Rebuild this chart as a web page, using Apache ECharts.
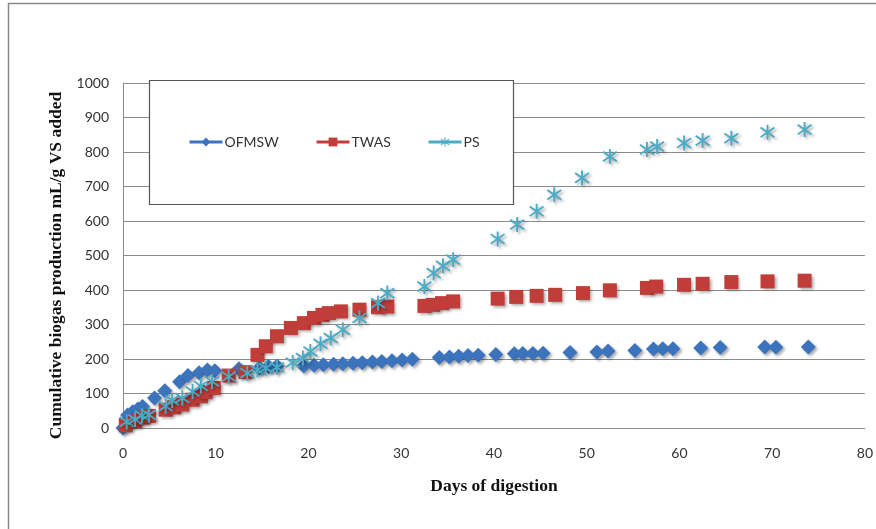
<!DOCTYPE html>
<html>
<head>
<meta charset="utf-8">
<script src="https://cdn.jsdelivr.net/npm/echarts@6/dist/echarts.min.js"></script>
<style>
html,body{margin:0;padding:0;background:#fff;}
#chart{width:876px;height:529px;}
</style>
</head>
<body>
<div id="chart"></div>
<script>
// ---- data ----
const xTitle = 'Days of digestion';
const yTitle = 'Cumulative biogas production mL/g VS added';
const seriesNames = ['OFMSW', 'TWAS', 'PS'];

const ofmswDays = [0, 0.5, 1.05, 1.6, 2.1, 3.4, 4.5, 6.1, 7.0, 8.2, 9.1, 9.9, 12.5, 14.7, 15.7, 16.6,
  19.5, 20.6, 21.6, 22.7, 23.7, 24.8, 25.8, 26.9, 27.9, 29.0, 30.1, 31.2,
  34.1, 35.2, 36.2, 37.2, 38.3, 40.2, 42.2, 43.1, 44.2, 45.3, 48.2, 51.1, 52.3, 55.2,
  57.2, 58.2, 59.3, 62.3, 64.4, 69.2, 70.4, 73.9];
const ofmswValues = [0, 38, 47, 55, 62, 87, 108, 134, 152, 160, 168, 166, 172, 174, 178, 180,
  180, 182, 183, 185, 186, 188, 189, 191, 193, 195, 197, 199,
  204, 206, 208, 210, 211, 213, 215, 216, 216, 217, 219, 220, 223, 225,
  229, 230, 230, 232, 233, 235, 234, 235];

const twasDays = [0.3, 1.3, 2.1, 2.8, 4.6, 5.5, 6.4, 7.5, 8.4, 8.9, 9.8, 11.4, 13.2, 14.5, 15.4, 16.6,
  18.1, 19.5, 20.6, 21.5, 22.2, 23.5, 25.5, 27.5, 28.5, 32.5, 33.4, 34.4, 35.6, 40.4, 42.4,
  44.6, 46.6, 49.6, 52.5, 56.5, 57.5, 60.5, 62.5, 65.6, 69.5, 73.5];
const twasValues = [8, 20, 30, 35, 53, 60, 68, 82, 92, 104, 116, 152, 162, 212, 237, 266,
  290, 304, 319, 328, 333, 338, 343, 350, 352, 354, 357, 362, 367, 375, 380,
  383, 386, 391, 399, 406, 410, 415, 418, 423, 425, 427];

const psDays = [0.4, 1.3, 2.05, 2.8, 4.6, 5.3, 6.4, 7.5, 8.4, 9.6, 11.4, 13.4, 14.5, 15.4, 16.6,
  18.3, 19.4, 20.2, 21.3, 22.4, 23.7, 25.5, 27.5, 28.5, 32.5, 33.5, 34.5, 35.6, 40.4, 42.5,
  44.6, 46.5, 49.5, 52.5, 56.5, 57.6, 60.5, 62.5, 65.6, 69.5, 73.5];
const psValues = [18, 25, 36, 38, 63, 80, 87, 106, 122, 135, 149, 159, 168, 174, 176,
  190, 203, 222, 244, 261, 285, 319, 362, 391, 410, 449, 470, 488, 548, 590,
  628, 676, 725, 787, 807, 816, 826, 833, 840, 857, 865];

// ---- build ----
function zip(a, b) { return a.map((d, i) => [d, b[i]]); }

const asterisk = 'path://M44 0L56 0L56 100L44 100Z' +
  'M9.53 13.15L97.53 77.15L90.47 86.85L2.47 22.85Z' +
  'M2.47 77.15L90.47 13.15L97.53 22.85L9.53 86.85Z';

const shadow = { shadowColor: 'rgba(0,0,0,0.35)', shadowBlur: 3, shadowOffsetX: 2, shadowOffsetY: 2 };
const colors = ['#3B74BD', '#C13D39', '#4AABC6'];
const symbols = ['diamond', 'rect', asterisk];
const sizes = [15, 14, 15];
const dataSets = [zip(ofmswDays, ofmswValues), zip(twasDays, twasValues), zip(psDays, psValues)];

const series = seriesNames.map((n, i) => ({
  name: n,
  type: 'line',
  data: dataSets[i],
  symbol: symbols[i],
  symbolSize: sizes[i],
  showSymbol: true,
  showAllSymbol: true,
  animation: false,
  lineStyle: { opacity: 0, width: 0 },
  itemStyle: Object.assign({ color: colors[i], borderWidth: 0, opacity: 1 }, shadow)
}));

const legendLeft = [188, 315, 427];
const legends = seriesNames.map((n, i) => ({
  data: [n],
  left: legendLeft[i],
  top: 135,
  padding: 0,
  itemWidth: 33,
  itemHeight: 11,
  itemGap: 4,
  z: 10,
  selectedMode: false,
  textStyle: { fontFamily: 'Lato', fontSize: 14, color: '#333', padding: [0, 0, 0, -3] },
  lineStyle: { width: 3, opacity: 1 },
  itemStyle: { shadowBlur: 0, shadowOffsetX: 0, shadowOffsetY: 0 }
}));

const chart = echarts.init(document.getElementById('chart'), null, { renderer: 'canvas' });
chart.setOption({
  animation: false,
  backgroundColor: '#fff',
  grid: { left: 123, right: 9, top: 83, bottom: 101, containLabel: false },
  legend: legends,
  graphic: [
    { type: 'rect', z: 1, silent: true, shape: { x: 8.5, y: 3.5, width: 900, height: 600 },
      style: { fill: 'none', stroke: '#8a8a8a', lineWidth: 1.5 } },
    { type: 'rect', z: 5, silent: true, shape: { x: 149.5, y: 80.5, width: 364, height: 124 },
      style: { fill: '#fff', stroke: '#555', lineWidth: 1.2 } }
  ],
  xAxis: {
    type: 'value', min: 0, max: 80, interval: 10,
    name: xTitle, nameLocation: 'middle', nameGap: 49,
    nameTextStyle: { fontFamily: 'Liberation Serif', fontWeight: 'bold', fontSize: 17.5, color: '#111' },
    axisLine: { show: true, lineStyle: { color: '#8c8c8c', width: 1 } },
    axisTick: { show: false },
    splitLine: { show: false },
    axisLabel: { fontFamily: 'Lato', fontSize: 14, color: '#333', margin: 18 }
  },
  yAxis: {
    type: 'value', min: 0, max: 1000, interval: 100,
    name: yTitle, nameLocation: 'middle', nameGap: 56, nameRotate: 90,
    nameTextStyle: { fontFamily: 'Liberation Serif', fontWeight: 'bold', fontSize: 17.5, color: '#111',
      padding: [0, 20, 0, 0] },
    axisLine: { show: true, lineStyle: { color: '#8c8c8c', width: 1 } },
    axisTick: { show: false },
    splitLine: { show: true, lineStyle: { color: '#8c8c8c', width: 1 } },
    axisLabel: { fontFamily: 'Lato', fontSize: 14, color: '#333', margin: 14,
      formatter: function (v) { return String(v); } }
  },
  series: series
});
</script>
</body>
</html>
